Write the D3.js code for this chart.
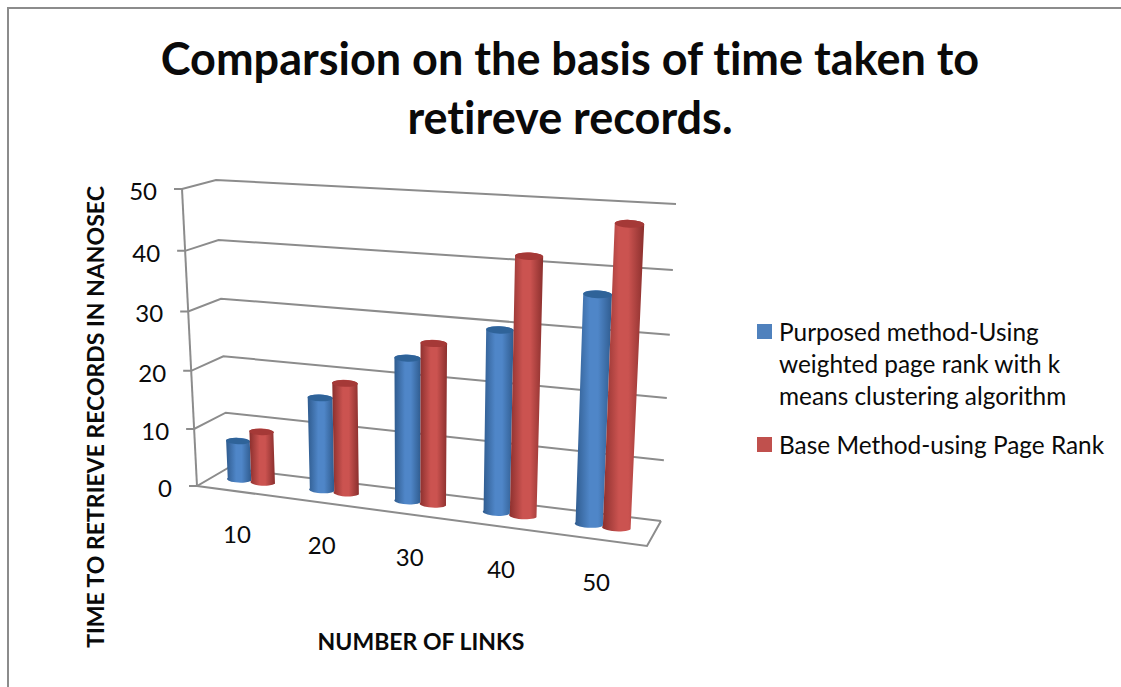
<!DOCTYPE html>
<html>
<head>
<meta charset="utf-8">
<script src="https://cdnjs.cloudflare.com/ajax/libs/d3/7.8.5/d3.min.js"></script>
<style>
html, body { margin: 0; padding: 0; background: #fff; }
svg { display: block; }
text { font-family: Lato, "Open Sans", sans-serif; fill: #0a0a0a; font-variant-ligatures: none; }
</style>
</head>
<body>
<div id="chart"></div>
<script>
var categories = ["10", "20", "30", "40", "50"];
var purposed = [6.8, 15.9, 24, 29.9, 36.7];
var base = [8.9, 18.8, 26.8, 41.8, 47.7];
var yTicks = [0, 10, 20, 30, 40, 50];
var seriesNames = ["Purposed method-Using weighted page rank with k means clustering algorithm", "Base Method-using Page Rank"];
var legendLines = [["Purposed method-Using", "weighted page rank with k", "means clustering algorithm"], ["Base Method-using Page Rank"]];
var titleLines = ["Comparsion on the basis of time taken to", "retireve records."];

var w = 1121, h = 687;

var svg = d3.select("#chart").append("svg").attr("width", w).attr("height", h);
var defs = svg.append("defs");

// plot box corners as seen on screen, [bottom, top]
var frontLeft = [[197, 486], [182, 189]];
var backLeft = [[228, 468], [216, 180]];
var backRight = [[661, 521], [676, 204]];
var frontRight = [[647, 546], [664, 219]];

var yScale = d3.scaleLinear().domain([0, 50]).range([0, 1]);
var uScale = d3.scaleBand().domain(categories).range([-0.008, 0.992]).paddingInner(0).paddingOuter(0);

function lerp(a, b, t) { return [a[0] + (b[0] - a[0]) * t, a[1] + (b[1] - a[1]) * t]; }
// right side is nearer the camera, so spacing grows along u
function persp(u) { return u / (1.1 - 0.1 * u); }
// top of the box is nearer too
function perspY(x) { return x / (1.052 - 0.052 * x); }
function project(u, v, value) {
    var t = perspY(yScale(value));
    var left = lerp(lerp(frontLeft[0], frontLeft[1], t), lerp(backLeft[0], backLeft[1], t), v);
    var right = lerp(lerp(frontRight[0], frontRight[1], t), lerp(backRight[0], backRight[1], t), v);
    return lerp(left, right, persp(u));
}

var gridColor = "#8c8c8c";

// page border
svg.append("path").attr("d", "M8,687V8H1121").attr("fill", "none").attr("stroke", gridColor).attr("stroke-width", 2);

var line = d3.line();
var grid = svg.append("g").attr("fill", "none").attr("stroke", gridColor).attr("stroke-width", 2);

yTicks.forEach(function (t) {
    var fl = project(0, 0, t), bl = project(0, 1, t), br = project(1, 1, t);
    grid.append("path").attr("d", line([[fl[0] - 8, fl[1]], fl, bl, br]));
    svg.append("text")
        .attr("x", fl[0] - 25)
        .attr("y", fl[1] + 11)
        .attr("text-anchor", "end")
        .attr("font-size", 24)
        .text(t);
});
grid.append("path").attr("d", line([project(0, 0, 0), project(0, 0, 50)]));
grid.append("path").attr("d", line([project(0, 0, 0), project(1, 0, 0), project(1, 1, 0)]));

// cylinders
var seriesStyle = [
    { id: "gradBlue", edge: "#2f5b8e", mid: "#4f86c8", cap: "#2f6399", values: purposed },
    { id: "gradRed", edge: "#8a2f2d", mid: "#cb5350", cap: "#a53937", values: base }
];

seriesStyle.forEach(function (s) {
    var g = defs.append("linearGradient").attr("id", s.id);
    g.append("stop").attr("offset", "0%").attr("stop-color", s.edge);
    g.append("stop").attr("offset", "40%").attr("stop-color", s.mid);
    g.append("stop").attr("offset", "62%").attr("stop-color", s.mid);
    g.append("stop").attr("offset", "100%").attr("stop-color", s.edge);
});

var depth = 0.55;
var halfCol = 0.029;
var columns = svg.append("g");

categories.forEach(function (c, i) {
    var center = uScale(c) + uScale.bandwidth() / 2;
    seriesStyle.forEach(function (s, k) {
        var uMid = center + (k === 0 ? -halfCol : halfCol);
        var bl = project(uMid - halfCol, depth, 0), br = project(uMid + halfCol, depth, 0);
        var tl = project(uMid - halfCol, depth, s.values[i]), tr = project(uMid + halfCol, depth, s.values[i]);
        var rxB = (br[0] - bl[0]) / 2, rxT = (tr[0] - tl[0]) / 2;
        var ryB = rxB * 0.27, ryT = rxT * 0.27;
        var tilt = Math.atan2(br[1] - bl[1], br[0] - bl[0]) * 180 / Math.PI * 0.3;

        columns.append("path")
            .attr("d", "M" + bl + "L" + tl +
                "A" + rxT + "," + ryT + " " + tilt + " 0 1 " + tr +
                "L" + br +
                "A" + rxB + "," + ryB + " " + tilt + " 0 1 " + bl + "Z")
            .attr("fill", "url(#" + s.id + ")");
        columns.append("ellipse")
            .attr("cx", (tl[0] + tr[0]) / 2)
            .attr("cy", (tl[1] + tr[1]) / 2)
            .attr("rx", rxT)
            .attr("ry", ryT)
            .attr("transform", "rotate(" + tilt + " " + (tl[0] + tr[0]) / 2 + " " + (tl[1] + tr[1]) / 2 + ")")
            .attr("fill", s.cap);
    });

    var p = project(uScale(c) + uScale.bandwidth() / 2, 0, 0);
    svg.append("text")
        .attr("x", p[0] + 2)
        .attr("y", p[1] + 52)
        .attr("text-anchor", "middle")
        .attr("font-size", 24)
        .text(c);
});

// title
svg.selectAll(".title").data(titleLines).enter().append("text")
    .attr("class", "title")
    .attr("x", 570)
    .attr("y", function (d, i) { return 75 + i * 59; })
    .attr("text-anchor", "middle")
    .attr("font-size", 45)
    .attr("font-weight", "bold")
    .text(function (d) { return d; });

// axis titles
svg.append("text")
    .attr("transform", "translate(104,417) rotate(-90)")
    .attr("text-anchor", "middle")
    .attr("font-size", 23)
    .attr("font-weight", "bold")
    .text("TIME TO RETRIEVE RECORDS IN NANOSEC");

svg.append("text")
    .attr("x", 421)
    .attr("y", 650)
    .attr("text-anchor", "middle")
    .attr("font-size", 23)
    .attr("font-weight", "bold")
    .text("NUMBER OF LINKS");

// legend
var legendTop = [324, 437];
var legendColors = ["#4f81bd", "#c0504d"];
seriesNames.forEach(function (name, i) {
    svg.append("rect")
        .attr("x", 757).attr("y", legendTop[i])
        .attr("width", 15).attr("height", 15)
        .attr("fill", legendColors[i]);
    legendLines[i].forEach(function (txt, j) {
        svg.append("text")
            .attr("x", 779)
            .attr("y", legendTop[i] + 17 + j * 32)
            .attr("font-size", 24.4)
            .text(txt);
    });
});
</script>
</body>
</html>
